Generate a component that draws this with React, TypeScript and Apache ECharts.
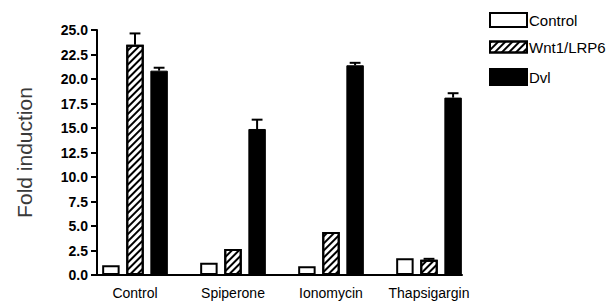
import React, { useEffect, useRef } from "react";
import * as echarts from "echarts";

const categories = ["Control", "Spiperone", "Ionomycin", "Thapsigargin"];
const seriesNames = ["Control", "Wnt1/LRP6", "Dvl"];
const controlValues = [1.0, 1.25, 0.9, 1.7];
const wntValues = [23.5, 2.65, 4.4, 1.55];
const dvlValues = [20.85, 14.9, 21.4, 18.1];
const controlErrors = [0, 0, 0, 0];
const wntErrors = [1.15, 0, 0, 0.1];
const dvlErrors = [0.3, 0.95, 0.25, 0.45];
const yTicks = { min: 0, max: 25, interval: 2.5 };

const CAT_GAP = 0.33;
const BAR_GAP = 0.38;
const FONT = "'Liberation Sans', Arial, Helvetica, sans-serif";

function errSeries(sIdx: number, vals: number[], errs: number[]) {
  return {
    type: "custom",
    xAxisIndex: 1,
    yAxisIndex: 1,
    z: 5,
    silent: true,
    encode: { x: 0, y: 1 },
    data: categories.map((_, i) => [i, vals[i], errs[i]]),
    renderItem: (params: any, api: any) => {
      const i = api.value(0);
      const v = api.value(1);
      const e = api.value(2);
      if (!e) return null;
      const band = api.size([1, 0])[0];
      const group = band * (1 - CAT_GAP);
      const bw = group / (3 + 2 * BAR_GAP);
      const cx = api.coord([i, 0])[0] + (sIdx - 1) * bw * (1 + BAR_GAP);
      const top = api.coord([i, v])[1];
      const hi = api.coord([i, v + e])[1];
      const cap = bw * 0.62;
      return {
        type: "group",
        children: [
          { type: "line", shape: { x1: cx, y1: top, x2: cx, y2: hi }, style: { stroke: "#000", lineWidth: 2 } },
          { type: "line", shape: { x1: cx - cap / 2, y1: hi, x2: cx + cap / 2, y2: hi }, style: { stroke: "#000", lineWidth: 2 } },
        ],
      };
    },
  };
}

export default function App() {
  const ref = useRef<HTMLDivElement>(null);
  useEffect(() => {
    if (!ref.current) return;
    const chart = echarts.init(ref.current, null, { renderer: "svg" });
    const hatch = {
      symbol: "rect",
      symbolSize: 1,
      dashArrayX: [1, 0],
      dashArrayY: [2, 3],
      rotation: -Math.PI / 4,
      color: "#000",
    };
    const legendBase = {
      orient: "vertical",
      left: 489,
      padding: 0,
      itemWidth: 37,
      icon: "rect",
      selectedMode: false,
      textStyle: { fontSize: 15, color: "#000", fontFamily: FONT, padding: [0, 0, 0, -3] },
    };
    chart.setOption({
      animation: false,
      backgroundColor: "#fff",
      textStyle: { fontFamily: FONT },
      legend: [
        { ...legendBase, top: 12, itemHeight: 14, data: [seriesNames[0]] },
        { ...legendBase, top: 39.5, itemHeight: 11, data: [seriesNames[1]] },
        { ...legendBase, top: 68, itemHeight: 16, data: [seriesNames[2]] },
      ],
      grid: [
        { left: 97, top: 30, width: 365, height: 245, containLabel: false },
        { left: 86, top: 30, width: 392, height: 245, containLabel: false },
      ],
      xAxis: [
        {
          gridIndex: 0,
          type: "value",
          min: 0,
          max: 1,
          axisLine: { show: true, lineStyle: { color: "#000", width: 2 } },
          axisTick: { show: false },
          axisLabel: { show: false },
          splitLine: { show: false },
        },
        {
          gridIndex: 1,
          type: "category",
          data: categories,
          axisLine: { show: false },
          axisTick: { show: false },
          axisLabel: { color: "#000", fontSize: 14, margin: 11, interval: 0, fontFamily: FONT },
          splitLine: { show: false },
        },
      ],
      yAxis: [
        {
          gridIndex: 0,
          type: "value",
          min: yTicks.min,
          max: yTicks.max,
          interval: yTicks.interval,
          name: "Fold induction",
          nameLocation: "middle",
          nameGap: 62,
          nameTextStyle: { fontSize: 21, color: "#3a3a3a", fontFamily: FONT },
          axisLine: { show: true, lineStyle: { color: "#000", width: 2 } },
          axisTick: { show: true, length: 6, lineStyle: { color: "#000", width: 2 } },
          axisLabel: {
            color: "#000",
            fontSize: 14,
            fontWeight: "bold",
            margin: 9,
            fontFamily: FONT,
            formatter: (v: number) => v.toFixed(1),
          },
          splitLine: { show: false },
        },
        {
          gridIndex: 1,
          type: "value",
          min: yTicks.min,
          max: yTicks.max,
          show: false,
          splitLine: { show: false },
        },
      ],
      series: [
        {
          name: seriesNames[0],
          type: "bar",
          xAxisIndex: 1,
          yAxisIndex: 1,
          data: controlValues,
          barGap: `${BAR_GAP * 100}%`,
          barCategoryGap: `${CAT_GAP * 100}%`,
          itemStyle: { color: "#fff", borderColor: "#000", borderWidth: 2 },
        },
        {
          name: seriesNames[1],
          type: "bar",
          xAxisIndex: 1,
          yAxisIndex: 1,
          data: wntValues,
          itemStyle: { color: "#fff", borderColor: "#000", borderWidth: 2, decal: hatch },
        },
        {
          name: seriesNames[2],
          type: "bar",
          xAxisIndex: 1,
          yAxisIndex: 1,
          data: dvlValues,
          itemStyle: { color: "#000", borderColor: "#000", borderWidth: 1 },
        },
        errSeries(0, controlValues, controlErrors),
        errSeries(1, wntValues, wntErrors),
        errSeries(2, dvlValues, dvlErrors),
      ],
    });
    return () => chart.dispose();
  }, []);
  return (
    <div
      ref={ref}
      style={{ position: "fixed", left: 0, top: 0, width: 615, height: 304 }}
    />
  );
}
